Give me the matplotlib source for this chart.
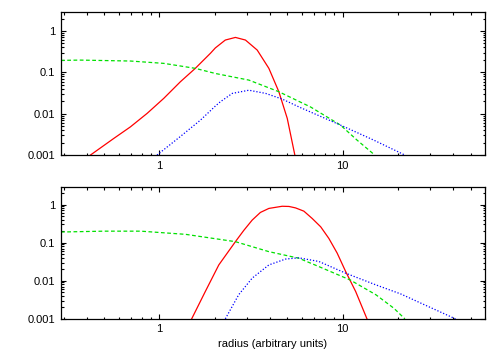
import numpy as np
import matplotlib
matplotlib.use("Agg")
import matplotlib.pyplot as plt
from matplotlib import ticker

plt.rcParams['font.family'] = ['Liberation Sans', 'DejaVu Sans']

# top panel
top_red_x = [0.42, 0.563, 0.694, 0.857, 1.056, 1.30, 1.57, 1.90, 2.02, 2.29, 2.60, 2.95, 3.42, 3.96, 4.49, 4.99, 5.49]
top_red_y = [0.001, 0.00252, 0.0048, 0.0102, 0.0235, 0.059, 0.125, 0.29, 0.39, 0.605, 0.70, 0.605, 0.346, 0.125, 0.034, 0.0077, 0.001]

top_green_x = [0.29, 0.37, 0.694, 1.056, 1.57, 2.02, 3.08, 4.49, 5.9, 6.68, 9.75, 12.0, 15.0]
top_green_y = [0.195, 0.198, 0.188, 0.165, 0.125, 0.094, 0.065, 0.034, 0.019, 0.0146, 0.0053, 0.0023, 0.001]

top_blue_x = [0.97, 1.30, 1.675, 2.02, 2.15, 2.50, 3.08, 3.80, 4.68, 5.9, 9.75, 14.8, 21.9]
top_blue_y = [0.001, 0.0028, 0.0070, 0.0153, 0.0194, 0.031, 0.037, 0.031, 0.0226, 0.014, 0.0053, 0.0023, 0.001]

# bottom panel
bot_red_x = [1.50, 1.78, 2.11, 2.60, 2.89, 3.21, 3.56, 3.96, 4.68, 5.1, 5.54, 6.15, 6.83, 7.6, 8.42, 9.35, 10.4, 11.8, 13.6]
bot_red_y = [0.001, 0.0052, 0.026, 0.106, 0.21, 0.39, 0.62, 0.79, 0.90, 0.89, 0.815, 0.67, 0.43, 0.26, 0.129, 0.053, 0.0175, 0.0052, 0.001]

bot_green_x = [0.29, 0.5, 0.79, 1.39, 2.60, 3.96, 5.77, 7.43, 11.0, 15.2, 19.07, 21.9]
bot_green_y = [0.19, 0.2, 0.2, 0.165, 0.106, 0.058, 0.039, 0.0235, 0.0105, 0.0043, 0.0019, 0.001]

bot_blue_x = [2.29, 2.71, 3.21, 3.96, 4.88, 5.77, 7.43, 10.4, 15.2, 20.8, 26.7, 41.4]
bot_blue_y = [0.001, 0.0043, 0.0117, 0.026, 0.037, 0.040, 0.032, 0.0158, 0.0078, 0.0045, 0.0026, 0.001]

yticks = [0.001, 0.01, 0.1, 1]
xticks = [1, 10]

fig = plt.figure(figsize=(5, 3.5), dpi=100)
ax1 = fig.add_axes([0.122, 0.557, 0.848, 0.409])
ax2 = fig.add_axes([0.122, 0.089, 0.848, 0.377])

panels = [
    (ax1, top_red_x, top_red_y, top_green_x, top_green_y, top_blue_x, top_blue_y),
    (ax2, bot_red_x, bot_red_y, bot_green_x, bot_green_y, bot_blue_x, bot_blue_y),
]

for ax, rx, ry, gx, gy, bx, by in panels:
    ax.plot(rx, ry, color='#ff0000', lw=0.9)
    ax.plot(gx, gy, color='#00e000', lw=0.9, linestyle=(0, (3, 2)))
    ax.plot(bx, by, color='#0000ff', lw=0.9, linestyle=(0, (1, 1.5)))
    ax.set_xscale('log')
    ax.set_yscale('log')
    ax.set_xlim(0.29, 60)
    ax.set_ylim(0.001, 2.9)
    ax.set_xticks(xticks)
    ax.set_yticks(yticks)
    ax.xaxis.set_major_formatter(ticker.FuncFormatter(lambda v, _: f'{v:g}'))
    ax.yaxis.set_major_formatter(ticker.FuncFormatter(lambda v, _: f'{v:g}'))
    ax.xaxis.set_minor_locator(ticker.LogLocator(base=10, subs=np.arange(2, 10)))
    ax.yaxis.set_minor_locator(ticker.LogLocator(base=10, subs=np.arange(2, 10)))
    ax.xaxis.set_minor_formatter(ticker.NullFormatter())
    ax.yaxis.set_minor_formatter(ticker.NullFormatter())
    ax.tick_params(which='both', direction='in', top=True, right=True, labelsize=8, width=0.8)
    ax.tick_params(which='major', length=3.5, pad=4)
    ax.tick_params(which='minor', length=1.8)
    for s in ax.spines.values():
        s.set_linewidth(0.9)

ax2.set_xlabel('radius (arbitrary units)', fontsize=8, labelpad=3)

fig.savefig('out.png', dpi=100)
